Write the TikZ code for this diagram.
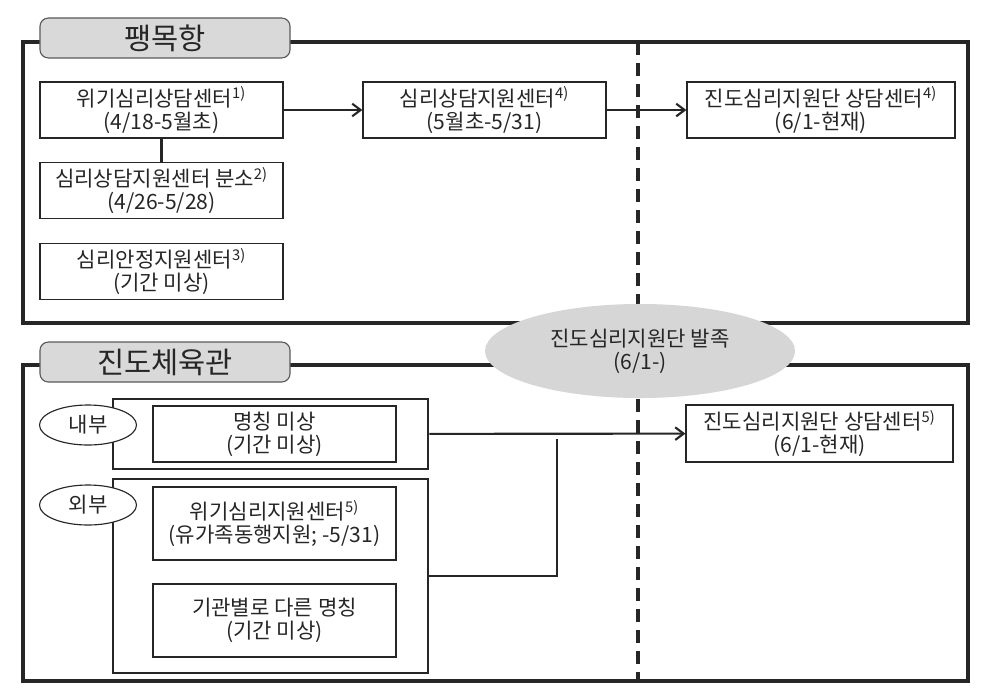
\documentclass[tikz,border=0pt]{standalone}
\usepackage{fontspec}
\setmainfont{Noto Sans CJK KR}
\usetikzlibrary{arrows.meta,shapes.geometric}
\definecolor{ink}{RGB}{38,38,38}
\definecolor{tabgray}{RGB}{217,217,217}
\definecolor{tabline}{RGB}{90,90,90}
\definecolor{launchgray}{RGB}{214,214,214}
\tikzstyle{every node}=[text=ink, font=\fontsize{15}{16.5}\selectfont, align=center, inner sep=0pt]
\tikzstyle{frame}=[draw=ink, line width=2.2pt]
\tikzstyle{tab}=[draw=tabline, fill=tabgray, line width=0.8pt, rounded corners=6pt, font=\fontsize{21}{23}\selectfont]
\tikzstyle{stage}=[draw=ink, line width=0.8pt, fill=white, minimum width=6.075cm, minimum height=1.4cm]
\tikzstyle{group}=[draw=ink, line width=2pt, minimum width=7.875cm]
\tikzstyle{tag}=[ellipse, draw=ink, line width=0.8pt, fill=white, minimum width=2.425cm, minimum height=1cm]
\tikzstyle{link}=[draw=ink, line width=1.5pt]
\tikzstyle{cut}=[draw=ink, line width=2.2pt, dash pattern=on 0.325cm off 0.2cm]

\begin{document}
\begin{tikzpicture}[x=0.025cm, y=-0.025cm]
            \useasboundingbox (0,0) rectangle (984,697);

            \draw[frame] (23,42) rectangle (968,323);
            \draw[frame] (23,365) rectangle (968,681);

            \coordinate (cut top) at (638,42);
            \coordinate (cut bottom) at (638,681);
            \draw[cut] (cut top) -- (cut bottom);

            \node[tab, minimum width=6.25cm, minimum height=1cm] (paengmok) at (165,38) {팽목항};
            \node[tab, minimum width=6.25cm, minimum height=1cm] (gym) at (165,362) {진도체육관};

            \node[stage] (crisis) at (161.5,110) {위기심리상담센터\textsuperscript{1)}\\(4/18-5월초)};
            \node[stage] (branch) at (161.5,190.5) {심리상담지원센터 분소\textsuperscript{2)}\\(4/26-5/28)};
            \node[stage] (stable) at (161.5,271.5) {심리안정지원센터\textsuperscript{3)}\\(기간 미상)};
            \node[stage] (support) at (484.5,110) {심리상담지원센터\textsuperscript{4)}\\(5월초-5/31)};
            \node[stage, minimum width=6.7cm] (team top) at (821,110) {진도심리지원단 상담센터\textsuperscript{4)}\\(6/1-현재)};

            \draw[link] (crisis) -- (branch);
            \draw[link, -{Straight Barb[length=6pt, width=9pt]}] (crisis) -- (support);
            \draw[link, -{Straight Barb[length=6pt, width=9pt]}] (support) -- (team top);

            \node[ellipse, fill=launchgray, minimum width=7.75cm, minimum height=2.35cm] (launch) at (640,351) {진도심리지원단 발족\\(6/1-)};

            \node[group, minimum height=1.75cm] (inside) at (270.5,434) {};
            \node[group, minimum height=4.85cm] (outside) at (270.5,576) {};
            \node[stage] (unnamed) at (274.5,434) {명칭 미상\\(기간 미상)};
            \node[stage, minimum height=1.825cm] (crisis2) at (274.5,523.5) {위기심리지원센터\textsuperscript{5)}\\(유가족동행지원; -5/31)};
            \node[stage, minimum height=1.825cm] (various) at (274.5,620.5) {기관별로 다른 명칭\\(기간 미상)};
            \node[tag] (in tag) at (88,425) {내부};
            \node[tag] (out tag) at (88,505) {외부};

            \node[stage, minimum width=6.675cm, minimum height=1.425cm] (team bottom) at (819.5,433.5) {진도심리지원단 상담센터\textsuperscript{5)}\\(6/1-현재)};

            \coordinate (join) at (557,439);
            \draw[link, -{Straight Barb[length=6pt, width=9pt]}] (inside) -- (team bottom);
            \draw[link, line width=2pt] (outside.east) -| (join);
        \end{tikzpicture}
\end{document}
